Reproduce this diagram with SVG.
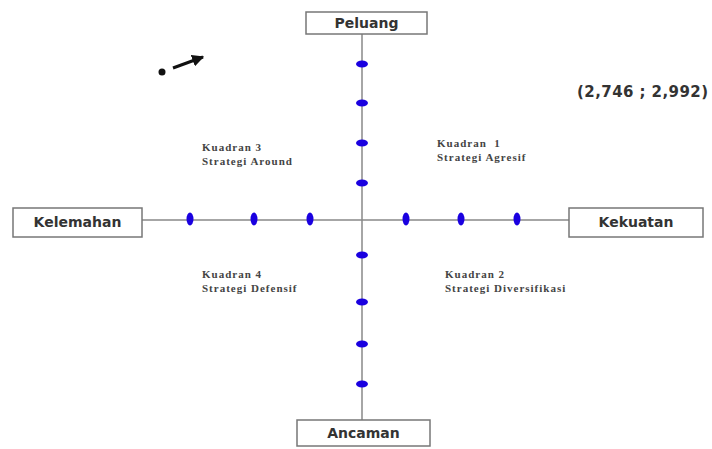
<svg xmlns="http://www.w3.org/2000/svg" width="712" height="449" viewBox="0 0 712 449">
<style>
.box{fill:#fff;stroke:#777;stroke-width:1.5}
.lbl{font-family:"DejaVu Sans",Verdana,sans-serif;font-weight:bold;font-size:14px;fill:#333;text-anchor:middle}
.axis{stroke:#888;stroke-width:1.5;fill:none}
.hd{fill:#1a00e0}
.q{font-family:"Liberation Serif","Times New Roman",serif;font-weight:bold;font-size:11px;letter-spacing:1px;fill:#444}
</style>
<defs>
<marker id="ah" viewBox="0 0 10 10" refX="9" refY="5" markerWidth="4" markerHeight="4" orient="auto">
<path d="M0,0 L10,5 L0,10 z" fill="#111"/>
</marker>
</defs>
<rect width="712" height="449" fill="#fff"/>
<g id="connectors">
<line class="axis" x1="362" y1="34" x2="362" y2="420"/>
<line class="axis" x1="142" y1="220" x2="569" y2="220"/>
<line x1="173" y1="68" x2="203" y2="57" stroke="#111" stroke-width="3" marker-end="url(#ah)"/>
</g>
<g id="ticks">
<ellipse class="hd" cx="362" cy="64" rx="6" ry="3.5"/>
<ellipse class="hd" cx="362" cy="103" rx="6" ry="3.5"/>
<ellipse class="hd" cx="362" cy="143" rx="6" ry="3.5"/>
<ellipse class="hd" cx="362" cy="183" rx="6" ry="3.5"/>
<ellipse class="hd" cx="362" cy="255" rx="6" ry="3.5"/>
<ellipse class="hd" cx="362" cy="302" rx="6" ry="3.5"/>
<ellipse class="hd" cx="362" cy="344" rx="6" ry="3.5"/>
<ellipse class="hd" cx="362" cy="384" rx="6" ry="3.5"/>
<ellipse class="hd" cx="190" cy="219" rx="3.5" ry="6.5"/>
<ellipse class="hd" cx="254" cy="219" rx="3.5" ry="6.5"/>
<ellipse class="hd" cx="310" cy="219" rx="3.5" ry="6.5"/>
<ellipse class="hd" cx="406" cy="219" rx="3.5" ry="6.5"/>
<ellipse class="hd" cx="461" cy="219" rx="3.5" ry="6.5"/>
<ellipse class="hd" cx="517" cy="219" rx="3.5" ry="6.5"/>
</g>
<g id="peluang">
<rect class="box" x="306" y="12" width="121" height="22"/>
<text class="lbl" x="366.5" y="28">Peluang</text>
</g>
<g id="kelemahan">
<rect class="box" x="13" y="208" width="129" height="29"/>
<text class="lbl" x="77.5" y="227">Kelemahan</text>
</g>
<g id="kekuatan">
<rect class="box" x="569" y="208" width="134" height="29"/>
<text class="lbl" x="636" y="227">Kekuatan</text>
</g>
<g id="ancaman">
<rect class="box" x="297" y="420" width="133" height="26"/>
<text class="lbl" x="363.5" y="438">Ancaman</text>
</g>
<g id="marker-point">
<circle cx="162" cy="72" r="3.5" fill="#111"/>
</g>
<g id="coord">
<text class="lbl" x="577" y="97" style="text-anchor:start;font-size:15px" textLength="131" lengthAdjust="spacing">(2,746 ; 2,992)</text>
</g>
<g id="q3">
<text class="q" x="202" y="151">Kuadran 3</text>
<text class="q" x="202" y="165">Strategi Around</text>
</g>
<g id="q1">
<text class="q" x="437" y="147" xml:space="preserve">Kuadran  1</text>
<text class="q" x="437" y="161">Strategi Agresif</text>
</g>
<g id="q4">
<text class="q" x="202" y="278">Kuadran 4</text>
<text class="q" x="202" y="292">Strategi Defensif</text>
</g>
<g id="q2">
<text class="q" x="445" y="278">Kuadran 2</text>
<text class="q" x="445" y="292">Strategi Diversifikasi</text>
</g>
</svg>
